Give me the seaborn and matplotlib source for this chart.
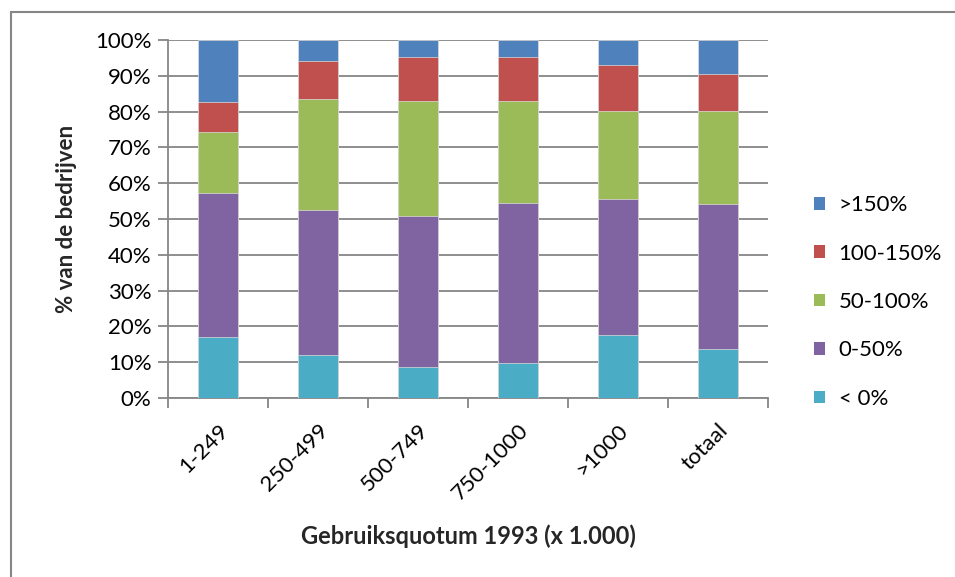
import numpy as np
import pandas as pd
import seaborn as sns
from matplotlib import pyplot as plt
from matplotlib.patches import Patch, Rectangle
from matplotlib.ticker import PercentFormatter

# Data (percentages per class)
categories = ['1-249', '250-499', '500-749', '750-1000', '>1000', 'totaal']
below_0 = [17.0, 12.0, 8.7, 9.8, 17.5, 13.7]
p0_50 = [40.4, 40.4, 42.0, 44.8, 38.2, 40.4]
p50_100 = [16.8, 31.2, 32.4, 28.5, 24.6, 26.2]
p100_150 = [8.4, 10.6, 12.2, 12.2, 12.8, 10.1]
above_150 = [17.4, 5.8, 4.7, 4.7, 6.9, 9.6]

series = ['< 0%', '0-50%', '50-100%', '100-150%', '>150%']
colors = ['#4BACC6', '#8064A2', '#9BBB59', '#C0504D', '#4F81BD']

df = pd.DataFrame({'cat': categories, '< 0%': below_0, '0-50%': p0_50,
                   '50-100%': p50_100, '100-150%': p100_150, '>150%': above_150})
cum = df[series].cumsum(axis=1)
cum['cat'] = df['cat']

sns.set_style('white')
plt.rcParams['font.family'] = ['Lato', 'DejaVu Sans']
plt.rcParams['text.color'] = 'black'

W, H = 955, 577
fig = plt.figure(figsize=(W / 100, H / 100), dpi=100)
ax = fig.add_axes([168 / W, (H - 398) / H, 600 / W, 358 / H])

# stacked bars: draw cumulative totals from top layer down
for s, c in reversed(list(zip(series, colors))):
    sns.barplot(data=cum, x='cat', y=s, order=categories, color=c,
                width=0.4, saturation=1, ax=ax, zorder=3,
                edgecolor='#dddddd', linewidth=0.5)

grid_c = '#868686'
ax.set_ylim(0, 100)
ax.set_xlim(-0.5, 5.5)
ax.set_yticks(np.arange(0, 101, 10))
ax.yaxis.set_major_formatter(PercentFormatter(100, decimals=0))
ax.grid(axis='y', color=grid_c, lw=1.3, zorder=0)
ax.set_axisbelow(True)
for side in ['top', 'right']:
    ax.spines[side].set_visible(False)
for side in ['left', 'bottom']:
    ax.spines[side].set_color(grid_c)
    ax.spines[side].set_linewidth(1.3)

ax.tick_params(axis='y', length=7, width=1.3, color=grid_c, labelsize=16,
               labelcolor='black', pad=5, left=True)
ax.set_xticks(np.arange(len(categories)))
ax.set_xticklabels(categories, rotation=45, ha='right', rotation_mode='anchor')
ax.tick_params(axis='x', which='major', length=0, labelsize=16, labelcolor='black', pad=16)
ax.set_xticks(np.arange(-0.5, 6, 1), minor=True)
ax.tick_params(axis='x', which='minor', length=7, width=1.3, color=grid_c, bottom=True)

ax.set_ylabel('% van de bedrijven', fontsize=16, fontweight='bold', labelpad=13)
ax.set_xlabel('Gebruiksquotum 1993 (x 1.000)', fontsize=17, fontweight='bold', labelpad=15)

handles = [Patch(facecolor=c, edgecolor='none', label=s)
           for s, c in reversed(list(zip(series, colors)))]
fig.legend(handles=handles, loc='upper left', bbox_to_anchor=(803 / W, (H - 184) / H),
           frameon=False, fontsize=16, labelspacing=1.28, handlelength=0.5,
           handleheight=0.5, handletextpad=0.6, borderpad=0)

# chart border (top and left edges visible)
fig.patches.append(Rectangle((11 / W, -0.1), 1.2, (H - 12) / H + 0.1,
                             transform=fig.transFigure, fill=False,
                             edgecolor=grid_c, lw=1.5))

fig.savefig('out.png', dpi=100)
